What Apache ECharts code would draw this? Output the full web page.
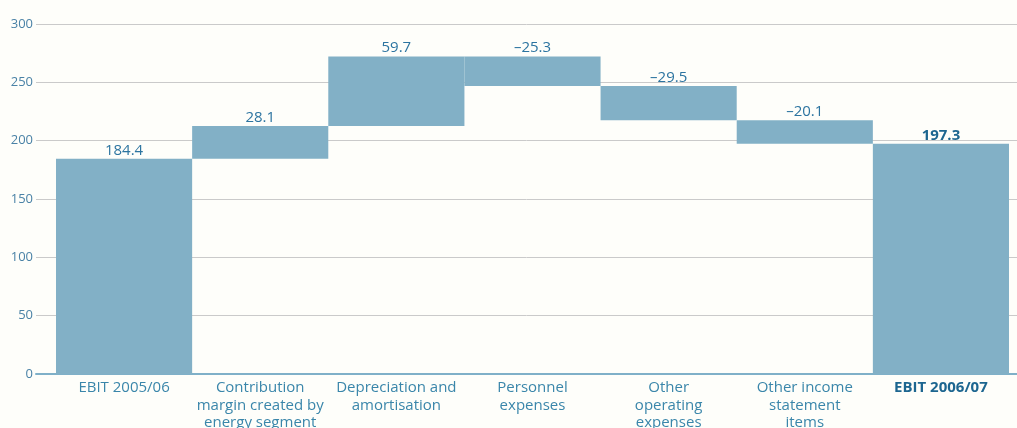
<!DOCTYPE html>
<html><head><meta charset="utf-8">
<script src="https://cdn.jsdelivr.net/npm/echarts@6/dist/echarts.min.js"></script>
<style>html,body{margin:0;padding:0;background:#fefefa}#c{width:1017px;height:428px}</style>
</head><body><div id="c"></div>
<script>
const categories = ["EBIT 2005/06","Contribution\nmargin created by\nenergy segment","Depreciation and\namortisation","Personnel\nexpenses","Other\noperating\nexpenses","Other income\nstatement\nitems","EBIT 2006/07"];
const changes = [184.4, 28.1, 59.7, -25.3, -29.5, -20.1, 197.3];
const isTotal = [true, false, false, false, false, false, true];
const yTicks = {min: 0, max: 300, interval: 50};

const base = [], visible = [];
let cum = 0;
changes.forEach((v, i) => {
  if (isTotal[i]) { base.push(0); visible.push(v); cum = v; }
  else if (v >= 0) { base.push(cum); visible.push(v); cum += v; }
  else { cum += v; base.push(cum); visible.push(-v); }
});
const fmt = v => (v < 0 ? '\u2013' + Math.abs(v).toFixed(1) : v.toFixed(1));

const font = "'Open Sans', 'Noto Sans', sans-serif";
const chart = echarts.init(document.getElementById('c'));
chart.setOption({
  backgroundColor: '#fefefa',
  animation: false,
  grid: [
    {left: 56, right: 8, top: 24, bottom: 54, outerBoundsMode: 'none', containLabel: false},
    {left: 36, right: 0, top: 24, bottom: 54, outerBoundsMode: 'none', containLabel: false}
  ],
  xAxis: [
    {type: 'category', gridIndex: 0, data: categories,
     axisLine: {show: false}, axisTick: {show: false},
     axisLabel: {interval: 0, margin: 5, color: '#3a86aa', fontFamily: font, fontSize: 15, lineHeight: 17.5,
       formatter: (v, i) => isTotal[i] && i === categories.length - 1 ? '{b|' + v + '}' : v,
       rich: {b: {fontWeight: 'bold', color: '#1d6690', fontFamily: font, fontSize: 15, lineHeight: 17.5}}}},
    {type: 'category', gridIndex: 1, data: [''],
     axisLine: {show: true, lineStyle: {color: '#7fb0c8', width: 2}}, axisTick: {show: false}, axisLabel: {show: false}}
  ],
  yAxis: [
    {type: 'value', gridIndex: 0, min: yTicks.min, max: yTicks.max, interval: yTicks.interval,
     axisLine: {show: false}, axisTick: {show: false}, axisLabel: {show: false}, splitLine: {show: false}},
    {type: 'value', gridIndex: 1, min: yTicks.min, max: yTicks.max, interval: yTicks.interval,
     axisLine: {show: false}, axisTick: {show: false},
     axisLabel: {color: '#4a82a6', fontFamily: font, fontSize: 13, margin: 3, padding: [0, 0, 9, 0]},
     splitLine: {show: true, lineStyle: {color: '#cacaca', width: 1}}}
  ],
  series: [
    {type: 'bar', xAxisIndex: 0, yAxisIndex: 0, stack: 'w', data: base,
     itemStyle: {color: 'transparent'}, barCategoryGap: 0, silent: true, z: 3},
    {type: 'bar', xAxisIndex: 0, yAxisIndex: 0, stack: 'w', data: visible,
     itemStyle: {color: '#82b0c6'}, barCategoryGap: 0, z: 3,
     label: {show: true, position: 'top', distance: 1, fontFamily: font, fontSize: 15, color: '#2c74a0',
       formatter: p => isTotal[p.dataIndex] && p.dataIndex === categories.length - 1 ? '{b|' + fmt(changes[p.dataIndex]) + '}' : fmt(changes[p.dataIndex]),
       rich: {b: {fontWeight: 'bold', color: '#1d6690', fontFamily: font, fontSize: 15}}}}
  ]
});
</script></body></html>
